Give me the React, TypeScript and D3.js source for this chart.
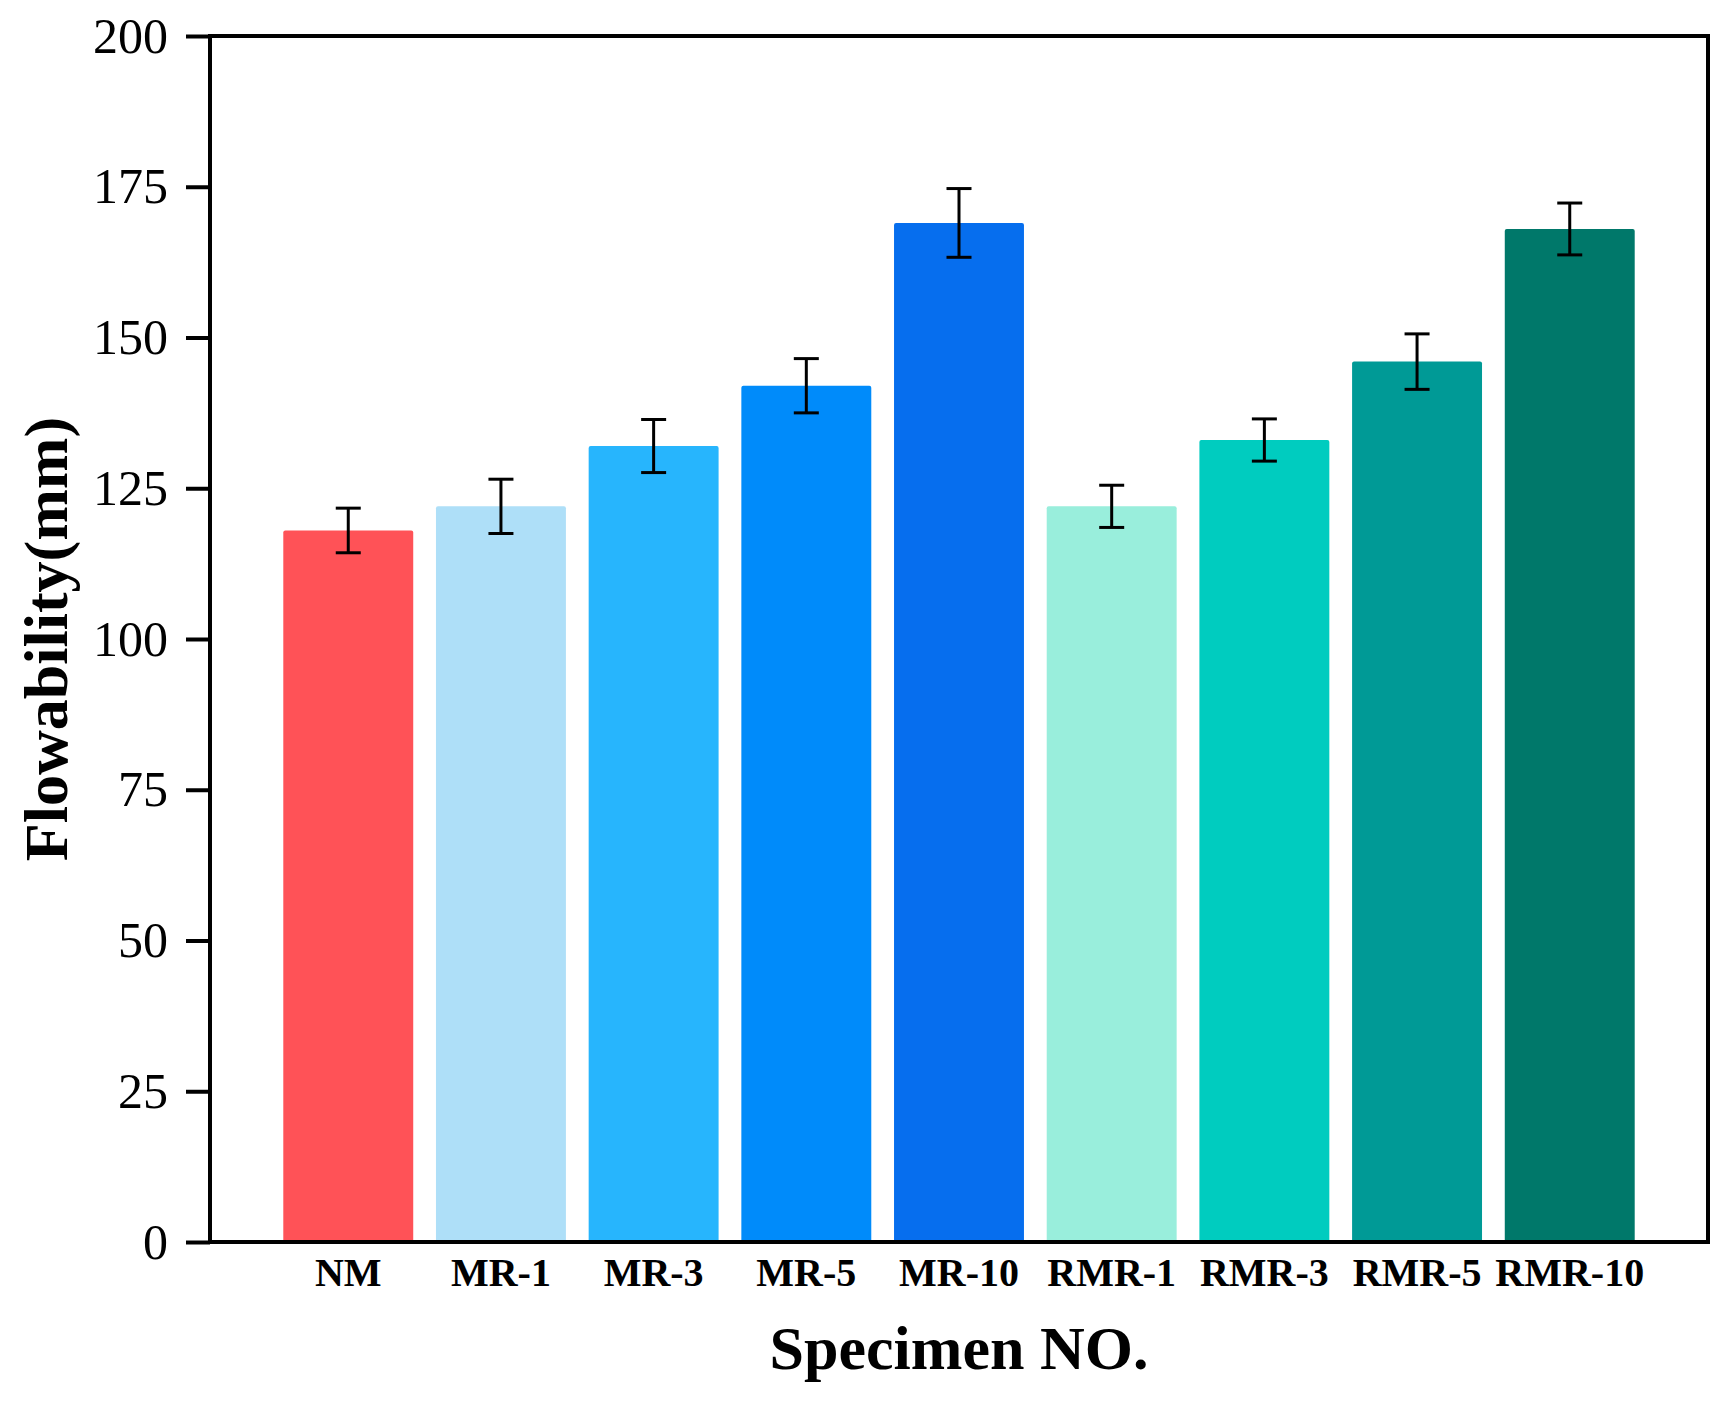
import { useEffect, useRef } from "react"
import * as d3 from "d3"

const specimens = ["NM", "MR-1", "MR-3", "MR-5", "MR-10", "RMR-1", "RMR-3", "RMR-5", "RMR-10"]
const flowability = [118, 122, 132, 142, 169, 122, 133, 146, 168]
const errors = [3.7, 4.5, 4.4, 4.5, 5.7, 3.5, 3.5, 4.6, 4.3]
const barColors = ["#ff5257", "#aedff8", "#27b5fd", "#008bfa", "#066eee", "#99eedc", "#00ccbf", "#009a96", "#00786a"]
const yTicks = [0, 25, 50, 75, 100, 125, 150, 175, 200]

export default function App() {
  const ref = useRef<SVGSVGElement | null>(null)

  useEffect(() => {
    document.body.style.margin = "0"

    const svg = d3.select(ref.current)
    svg.selectAll("*").remove()

    const width = 1730
    const height = 1402
    const margin = { top: 36, right: 22, bottom: 160, left: 210 }
    const serif = "'Liberation Serif', 'Times New Roman', serif"

    const x = d3.scaleBand()
      .domain(specimens)
      .range([margin.left, width - margin.right])
      .paddingInner(0.149)
      .paddingOuter(0.48)

    const y = d3.scaleLinear()
      .domain([0, 200])
      .range([height - margin.bottom, margin.top])

    svg.attr("width", width).attr("height", height)

    // bars
    svg.append("g")
      .selectAll("rect")
      .data(flowability)
      .enter()
      .append("rect")
      .attr("x", (d, i) => x(specimens[i])!)
      .attr("y", d => y(d))
      .attr("width", x.bandwidth())
      .attr("height", d => y(0) - y(d))
      .attr("rx", 2)
      .attr("fill", (d, i) => barColors[i])

    // error bars
    const err = svg.append("g")
      .attr("stroke", "#000")
      .attr("stroke-width", 3)

    flowability.forEach((v, i) => {
      const cx = x(specimens[i])! + x.bandwidth() / 2
      const top = y(v + errors[i])
      const bot = y(v - errors[i])
      err.append("line").attr("x1", cx).attr("x2", cx).attr("y1", top).attr("y2", bot)
      err.append("line").attr("x1", cx - 12.5).attr("x2", cx + 12.5).attr("y1", top).attr("y2", top)
      err.append("line").attr("x1", cx - 12.5).attr("x2", cx + 12.5).attr("y1", bot).attr("y2", bot)
    })

    // frame
    svg.append("rect")
      .attr("x", margin.left)
      .attr("y", margin.top)
      .attr("width", width - margin.left - margin.right)
      .attr("height", y(0) - margin.top)
      .attr("fill", "none")
      .attr("stroke", "#000")
      .attr("stroke-width", 4)

    // Y Axis
    const yAxis = svg.append("g")
      .attr("transform", `translate(${margin.left},0)`)
      .call(d3.axisLeft(y).tickValues(yTicks).tickSize(24).tickPadding(18))

    yAxis.select(".domain").remove()
    yAxis.selectAll("line")
      .attr("stroke", "#000")
      .attr("stroke-width", 4)
    yAxis.selectAll("text")
      .attr("fill", "#000")
      .style("font-family", serif)
      .style("font-size", "50px")

    // X Axis
    const xAxis = svg.append("g")
      .attr("transform", `translate(0,${y(0)})`)
      .call(d3.axisBottom(x).tickSize(0).tickPadding(44))

    xAxis.select(".domain").remove()
    xAxis.selectAll("text")
      .attr("fill", "#000")
      .attr("dy", 0)
      .style("font-family", serif)
      .style("font-size", "40px")
      .style("font-weight", "bold")

    // titles
    svg.append("text")
      .attr("x", (margin.left + width - margin.right) / 2)
      .attr("y", 1369)
      .attr("text-anchor", "middle")
      .style("font-family", serif)
      .style("font-size", "62px")
      .style("font-weight", "bold")
      .text("Specimen NO.")

    svg.append("text")
      .attr("transform", `translate(67,${(margin.top + y(0)) / 2}) rotate(-90)`)
      .attr("text-anchor", "middle")
      .style("font-family", serif)
      .style("font-size", "62px")
      .style("font-weight", "bold")
      .text("Flowability(mm)")
  }, [])

  return <svg ref={ref} style={{ display: "block" }} />
}
